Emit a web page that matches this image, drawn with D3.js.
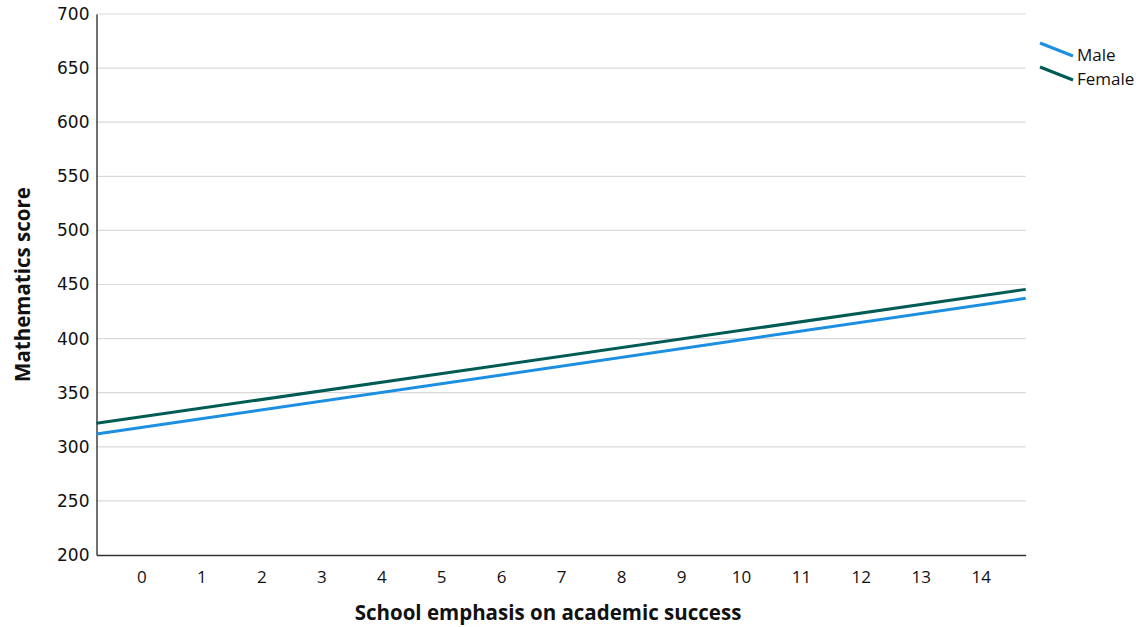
<!DOCTYPE html>
<html><head><meta charset="utf-8">
<script src="https://cdn.jsdelivr.net/npm/d3@7"></script>
<style>body{margin:0;background:#fff}</style>
</head><body>
<svg id="c" width="1143" height="627"></svg>
<script>
const seriesNames = ["Male", "Female"];
const seriesColors = ["#1c8fe0", "#005b55"];
const xEnds = [-0.75, 14.75];
const maleValues = [311.8, 437.2];
const femaleValues = [321.7, 445.5];
const xTicks = [0,1,2,3,4,5,6,7,8,9,10,11,12,13,14];
const yTicks = [200,250,300,350,400,450,500,550,600,650,700];

const svg = d3.select("#c");
const L = 96.5, R = 1025.7, T = 14, B = 555;
const x = d3.scaleLinear().domain(xEnds).range([L, R]);
const y = d3.scaleLinear().domain([200, 700]).range([B, T]);

// gridlines
svg.append("g").selectAll("line").data(yTicks.filter(d => d > 200)).join("line")
  .attr("x1", L).attr("x2", R).attr("y1", d => y(d)).attr("y2", d => y(d))
  .attr("stroke", "#d9d9d9").attr("stroke-width", 1.2);

// y axis
const ya = svg.append("g").attr("transform", `translate(${L},0)`)
  .call(d3.axisLeft(y).tickValues(yTicks).tickSize(0).tickPadding(7));
ya.select(".domain").attr("stroke", "#222").attr("stroke-width", 1.3);
ya.selectAll("text").attr("font-family", "DejaVu Sans, sans-serif").attr("font-size", 17).attr("fill", "#111");

// x axis
const xa = svg.append("g").attr("transform", `translate(0,${B})`)
  .call(d3.axisBottom(x).tickValues(xTicks).tickSize(0).tickPadding(16).tickFormat(d3.format("d")));
xa.select(".domain").attr("stroke", "#333").attr("stroke-width", 1.3);
xa.selectAll("text").attr("font-family", "Open Sans, sans-serif").attr("font-size", 17).attr("fill", "#111");

// lines
const series = [maleValues, femaleValues];
const line = d3.line().x((d, i) => x(xEnds[i])).y(d => y(d));
series.forEach((vals, i) => {
  svg.append("path").datum(vals).attr("d", line)
    .attr("fill", "none").attr("stroke", seriesColors[i]).attr("stroke-width", 3);
});

// axis titles
svg.append("text").attr("x", 548).attr("y", 620).attr("text-anchor", "middle")
  .attr("font-family", "Open Sans, sans-serif").attr("font-weight", "bold").attr("font-size", 20.5)
  .attr("fill", "#111").text("School emphasis on academic success");
svg.append("text").attr("transform", `translate(30,${(T + B) / 2}) rotate(-90)`).attr("text-anchor", "middle")
  .attr("font-family", "Open Sans, sans-serif").attr("font-weight", "bold").attr("font-size", 20.5)
  .attr("fill", "#111").text("Mathematics score");

// legend
const lg = svg.append("g");
seriesNames.forEach((n, i) => {
  const yy = 43 + i * 24;
  lg.append("line").attr("x1", 1040).attr("y1", yy).attr("x2", 1073).attr("y2", yy + 13)
    .attr("stroke", seriesColors[i]).attr("stroke-width", 3);
  lg.append("text").attr("x", 1077).attr("y", yy + 18).attr("font-family", "Open Sans, sans-serif")
    .attr("font-size", 17).attr("fill", "#111").text(n);
});
</script>
</body></html>
